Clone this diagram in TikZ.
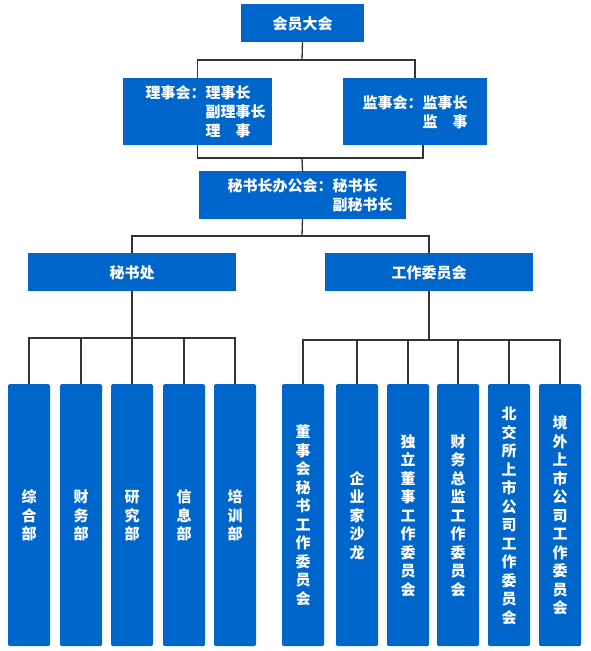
\documentclass[tikz,border=0pt]{standalone}
\usepackage{fontspec}
\setmainfont{Noto Sans CJK SC}
\definecolor{boxblue}{HTML}{0066CC}
\definecolor{linegray}{HTML}{333333}
% rows of text, with extents fixed so the ink is centred in the box
\newcommand\rowsbox[3]{\raisebox{0pt}[17.4pt][\dimexpr #2*#1-#2+5pt\relax]{#3}}
\newcommand\vtext[2]{\rowsbox{#1}{18.5pt}{\begin{tabular}[t]{@{}c@{}}#2\end{tabular}}}
\tikzset{
  box/.style={fill=boxblue, text=white, inner sep=0pt, outer sep=0pt, anchor=north west,
    font=\fontsize{15}{19}\selectfont\bfseries},
  vbox/.style={box, rounded corners=1.5pt, minimum width=42pt, minimum height=262pt,
    font=\fontsize{15}{18.5}\selectfont\bfseries},
  conn/.style={draw=linegray, line width=1.3pt}
}
\begin{document}
\begin{tikzpicture}[x=1pt,y=-1pt]
\useasboundingbox (0,0) rectangle (590,651);
% top levels
\node[box, minimum width=123pt, minimum height=38pt] (hy) at (241,4) {\rowsbox{1}{19pt}{会员大会}};
\node[box, minimum width=149pt, minimum height=67pt] (lsh) at (123,78)
  {\rowsbox{3}{19pt}{\begin{tabular}[t]{@{\hspace{16pt}}l@{}l@{}}理事会：&理事长\\&副理事长\\&理　事\end{tabular}}};
\node[box, minimum width=144pt, minimum height=67pt] (jsh) at (343,78)
  {\rowsbox{2}{19pt}{\begin{tabular}[t]{@{}l@{}l@{}}监事会：&监事长\\&监　事\end{tabular}}};
\node[box, minimum width=207pt, minimum height=48pt] (msz) at (199,171)
  {\rowsbox{2}{19pt}{\begin{tabular}[t]{@{\hspace{15pt}}l@{}l@{}}秘书长办公会：&秘书长\\&副秘书长\end{tabular}}};
\node[box, minimum width=208pt, minimum height=38pt] (msc) at (28,253) {\rowsbox{1}{19pt}{秘书处}};
\node[box, minimum width=208pt, minimum height=38pt] (gw) at (325,253) {\rowsbox{1}{19pt}{工作委员会}};
% bottom left
\node[vbox] (b1) at (8,384) {\vtext{3}{综\\合\\部}};
\node[vbox] (b2) at (60,384) {\vtext{3}{财\\务\\部}};
\node[vbox] (b3) at (111,384) {\vtext{3}{研\\究\\部}};
\node[vbox] (b4) at (163,384) {\vtext{3}{信\\息\\部}};
\node[vbox] (b5) at (214,384) {\vtext{3}{培\\训\\部}};
% bottom right
\node[vbox] (c1) at (282,384) {\vtext{10}{董\\事\\会\\秘\\书\\工\\作\\委\\员\\会}};
\node[vbox] (c2) at (336,384) {\vtext{5}{企\\业\\家\\沙\\龙}};
\node[vbox] (c3) at (387,384) {\vtext{9}{独\\立\\董\\事\\工\\作\\委\\员\\会}};
\node[vbox] (c4) at (437,384) {\vtext{9}{财\\务\\总\\监\\工\\作\\委\\员\\会}};
\node[vbox] (c5) at (488,384) {\vtext{12}{北\\交\\所\\上\\市\\公\\司\\工\\作\\委\\员\\会}};
\node[vbox] (c6) at (539,384) {\vtext{11}{境\\外\\上\\市\\公\\司\\工\\作\\委\\员\\会}};
% junctions
\coordinate (j1) at (302,60);
\coordinate (j2) at (302,158);
\coordinate (j3) at (302,236);
\coordinate (j4) at (132,338);
\coordinate (j5) at (429,340);
% connectors
\draw[conn] (hy.south) -- (j1);
\draw[conn] (lsh.north) |- (j1) -| (jsh.north);
\draw[conn] (lsh.south) |- (j2) -| ([xshift=8pt]jsh.south);
\draw[conn] (j2) -- (msz.north);
\draw[conn] (msz.south) -- (j3);
\draw[conn] (msc.north) |- (j3) -| (gw.north);
\draw[conn] (msc.south) -- (j4);
\draw[conn] (b1.north) |- (j4) -| (b5.north);
\draw[conn] (b2.north) -- (b2.north |- j4);
\draw[conn] (b3.north) -- (b3.north |- j4);
\draw[conn] (b4.north) -- (b4.north |- j4);
\draw[conn] (gw.south) -- (j5);
\draw[conn] (c1.north) |- (j5) -| (c6.north);
\draw[conn] (c2.north) -- (c2.north |- j5);
\draw[conn] (c3.north) -- (c3.north |- j5);
\draw[conn] (c4.north) -- (c4.north |- j5);
\draw[conn] (c5.north) -- (c5.north |- j5);
\end{tikzpicture}
\end{document}
